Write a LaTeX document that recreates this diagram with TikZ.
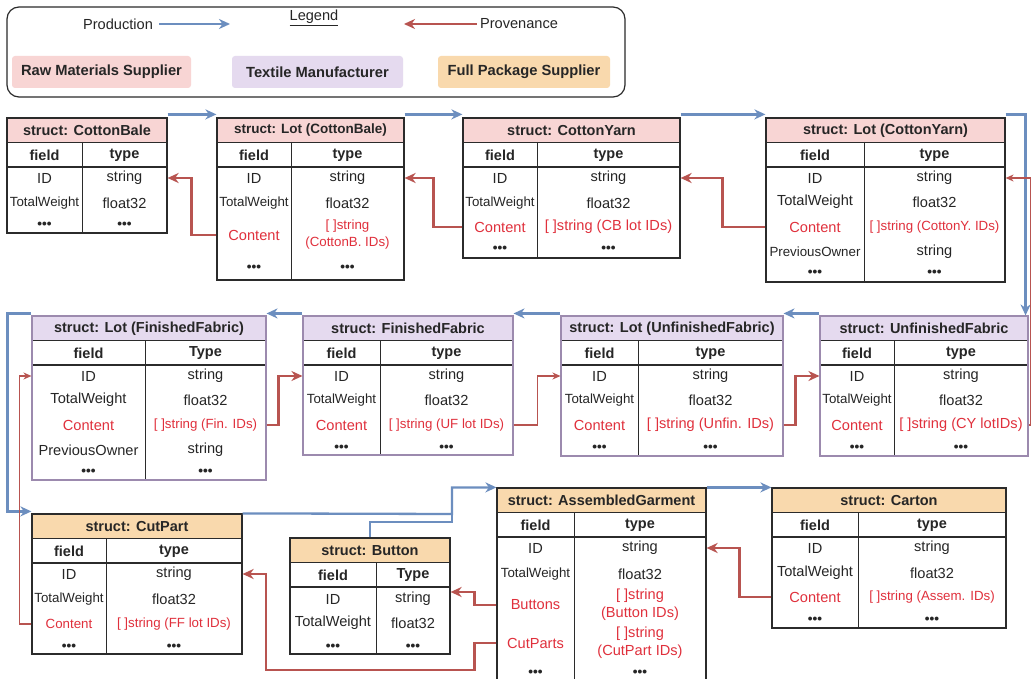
\documentclass[tikz,border=0pt]{standalone}
\usepackage{fontspec}
\setmainfont{Liberation Sans}
\usetikzlibrary{arrows.meta,fit,calc}
\definecolor{pinkF}{HTML}{F8D5D4}
\definecolor{lavF}{HTML}{E5DAEF}
\definecolor{peachF}{HTML}{F9D9AD}
\definecolor{bluL}{HTML}{6C8EBF}
\definecolor{redL}{HTML}{B85450}
\definecolor{txtred}{HTML}{E0303C}
\definecolor{darkL}{HTML}{2B2B2B}
\definecolor{lavB}{HTML}{9C8AAE}
\tikzset{
  rawfill/.style={fill=pinkF}, texfill/.style={fill=lavF}, fullfill/.style={fill=peachF},
  rawbord/.style={draw=darkL,line width=1.2pt},
  texbord/.style={draw=lavB,line width=1.1pt},
  fullbord/.style={draw=darkL,line width=1.2pt},
  inl/.style={draw=darkL,line width=0.8pt},
  tb/.style={font=\fontsize{14.6}{18}\selectfont,inner sep=0pt,align=center,text=black!85},
  sm/.style={font=\fontsize{13.3}{17}\selectfont},
  rd/.style={text=txtred},
  dt/.style={font=\bfseries\fontsize{13.5}{15}\selectfont},
  hd/.style={font=\bfseries\fontsize{14.5}{17}\selectfont,inner sep=0pt,text=black!85},
  prod/.style={draw=bluL,line width=2.3pt,-{Stealth[length=11pt,width=10pt,inset=3.5pt]}},
  prodline/.style={draw=bluL,line width=2.3pt},
  prov/.style={draw=redL,line width=2.2pt,-{Stealth[length=11pt,width=10pt,inset=3.5pt]}},
  provthin/.style={draw=redL,line width=1.1pt,-{Stealth[length=8pt,width=7pt,inset=2.5pt]}},
  legbox/.style={rounded corners=3pt,inner sep=0pt,minimum height=32pt,font=\bfseries\fontsize{14.7}{17}\selectfont,text=black!85},
}
% table: name, x1, xm, x2, ytop, ybot, kind, title, type heading
\newcommand\tbl[9]{%
  \fill[#7fill] (#2,#5) rectangle (#4,#5+24);
  \draw[inl] (#2,#5+24) -- (#4,#5+24);
  \draw[inl,line width=1.4pt] (#2,#5+49) -- (#4,#5+49);
  \draw[inl] (#3,#5+24) -- (#3,#6);
  \node[fit={(#2,#5) (#4,#6)},inner sep=0pt,#7bord] (#1) {};
  \node[hd] (#1-t) at ({(#2+#4)/2},#5+12.5) {#8};
  \pgfmathsetmacro\cL{(#2+#3)/2}\pgfmathsetmacro\cR{(#3+#4)/2}%
  \node[hd] (#1-fh) at (\cL,#5+37) {field};
  \node[hd] (#1-th) at (\cR,#5+37) {#9};
}
% row: key, y, field style, field, type style, type
\newcommand\rw[6]{%
  \node[tb,#3] (#1f) at (\cL,#2) {#4};
  \node[tb,#5] (#1v) at (\cR,#2) {#6};
}
\begin{document}
\begin{tikzpicture}[x=1pt,y=-1pt]
\useasboundingbox (0,0) rectangle (1031,679);
\fill[white] (0,0) rectangle (1031,679);

% ---------------- Legend
\node[fit={(7,7) (625,97)},inner sep=0pt,draw=darkL,line width=1.2pt,rounded corners=12pt] (leg) {};
\node[tb] (prodT) at (118,24) {Production};
\coordinate (prodE) at (230,24);
\draw[prod] ([xshift=6pt]prodT.east) -- (prodE);
\node[tb] (legT) at (314,18) {\underline{Legend}};
\node[tb] (provT) at (519,24) {Provenance};
\coordinate (provE) at (404,24);
\draw[prov] ([xshift=-3pt]provT.west) -- (provE);
\node[legbox,fill=pinkF,minimum width=179pt] (lraw) at (101.5,72) {Raw Materials Supplier};
\node[legbox,fill=lavF,minimum width=171pt] (ltex) at (317.5,72) {Textile Manufacturer};
\node[legbox,fill=peachF,minimum width=172pt] (lful) at (524,72) {Full Package Supplier};

% ---------------- Row 1
\tbl{cb}{7}{82}{167}{118}{233}{raw}{struct: CottonBale}{type}
\rw{cbID}{178}{}{ID}{}{string}
\rw{cbTW}{203}{sm}{TotalWeight}{}{float32}
\rw{cbD}{225}{dt}{•••}{dt}{•••}

\tbl{lotcb}{217}{291}{404}{118}{280}{raw}{{\fontsize{13.5}{16}\selectfont struct: Lot (CottonBale)}}{type}
\rw{lotcbID}{178}{}{ID}{}{string}
\rw{lotcbTW}{203}{sm}{TotalWeight}{}{float32}
\rw{lotcbC}{235}{rd}{Content}{rd,sm}{[ ]string\\(CottonB. IDs)}
\rw{lotcbD}{268}{dt}{•••}{dt}{•••}

\tbl{cy}{463}{537}{680}{118}{258}{raw}{struct: CottonYarn}{type}
\rw{cyID}{178}{}{ID}{}{string}
\rw{cyTW}{203}{sm}{TotalWeight}{}{float32}
\rw{cyC}{227}{rd}{Content}{rd}{[ ]string (CB lot IDs)}
\rw{cyD}{249}{dt}{•••}{dt}{•••}

\tbl{lotcy}{766}{864}{1005}{118}{282}{raw}{struct: Lot (CottonYarn)}{type}
\rw{lotcyID}{178}{}{ID}{}{string}
\rw{lotcyTW}{202}{}{TotalWeight}{}{float32}
\rw{lotcyC}{227}{rd}{Content}{rd,sm}{[ ]string (CottonY. IDs)}
\rw{lotcyP}{252}{sm}{PreviousOwner}{}{string}
\rw{lotcyD}{273}{dt}{•••}{dt}{•••}

% ---------------- Row 2
\tbl{lotff}{32}{145}{266}{316}{480}{tex}{struct: Lot (FinishedFabric)}{Type}
\rw{lotffID}{376}{}{ID}{}{string}
\rw{lotffTW}{400}{}{TotalWeight}{}{float32}
\rw{lotffC}{425}{rd}{Content}{rd,sm}{[ ]string (Fin. IDs)}
\rw{lotffP}{450}{}{PreviousOwner}{}{string}
\rw{lotffD}{472}{dt}{•••}{dt}{•••}

\tbl{ff}{303}{380}{513}{316}{455}{tex}{struct: FinishedFabric}{type}
\rw{ffID}{376}{}{ID}{}{string}
\rw{ffTW}{400}{sm}{TotalWeight}{}{float32}
\rw{ffC}{425}{rd}{Content}{rd,sm}{[ ]string (UF lot IDs)}
\rw{ffD}{448}{dt}{•••}{dt}{•••}

\tbl{lotuf}{561}{638}{783}{316}{456}{tex}{struct: Lot (UnfinishedFabric)}{type}
\rw{lotufID}{376}{}{ID}{}{string}
\rw{lotufTW}{400}{sm}{TotalWeight}{}{float32}
\rw{lotufC}{425}{rd}{Content}{rd}{[ ]string (Unfin. IDs)}
\rw{lotufD}{448}{dt}{•••}{dt}{•••}

\tbl{uf}{820}{894}{1028}{316}{456}{tex}{struct: UnfinishedFabric}{type}
\rw{ufID}{376}{}{ID}{}{string}
\rw{ufTW}{400}{sm}{TotalWeight}{}{float32}
\rw{ufC}{425}{rd}{Content}{rd}{[ ]string (CY lotIDs)}
\rw{ufD}{448}{dt}{•••}{dt}{•••}

% ---------------- Row 3
\tbl{cp}{32}{106}{242}{514}{654}{full}{struct: CutPart}{type}
\rw{cpID}{574}{}{ID}{}{string}
\rw{cpTW}{599}{sm}{TotalWeight}{}{float32}
\rw{cpC}{624}{rd,sm}{Content}{rd,sm}{[ ]string (FF lot IDs)}
\rw{cpD}{647}{dt}{•••}{dt}{•••}

\tbl{bt}{290}{376}{450}{538}{654}{full}{struct: Button}{Type}
\rw{btID}{599}{}{ID}{}{string}
\rw{btTW}{623}{}{TotalWeight}{}{float32}
\rw{btD}{647}{dt}{•••}{dt}{•••}

\tbl{ag}{497}{574}{706}{488}{688}{full}{struct: AssembledGarment}{type}
\rw{agID}{548}{}{ID}{}{string}
\rw{agTW}{574}{sm}{TotalWeight}{}{float32}
\rw{agB}{605}{rd}{Buttons}{rd}{[ ]string\\(Button IDs)}
\rw{agP}{643}{rd}{CutParts}{rd}{[ ]string\\(CutPart IDs)}
\rw{agD}{673}{dt}{•••}{dt}{•••}

\tbl{ct}{772}{858}{1006}{488}{628}{full}{struct: Carton}{type}
\rw{ctID}{548}{}{ID}{}{string}
\rw{ctTW}{573}{}{TotalWeight}{}{float32}
\rw{ctC}{597}{rd}{Content}{rd,sm}{[ ]string (Assem. IDs)}
\rw{ctD}{620}{dt}{•••}{dt}{•••}

% ---------------- Production connectors (blue)
\draw[prod] ([yshift=3pt]cb.north east) -- ([yshift=3pt]lotcb.north west);
\draw[prod] ([yshift=3pt]lotcb.north east) -- ([yshift=3pt]cy.north west);
\draw[prod] ([yshift=3pt]cy.north east) -- ([yshift=3pt]lotcy.north west);
\draw[prod] ([yshift=3pt]lotcy.north east) -| ([xshift=-3pt]uf.north east);
\draw[prod] ([yshift=2pt]uf.north west) -- ([yshift=2pt]lotuf.north east);
\draw[prod] ([yshift=2pt]lotuf.north west) -- ([yshift=2pt]ff.north east);
\draw[prod] ([yshift=2pt]ff.north west) -- ([yshift=2pt]lotff.north east);
\draw[prod] ([yshift=2pt]lotff.north west) -- ++(-24,0) |- ([yshift=2pt]cp.north west);
\coordinate (jn) at (452,514);
\draw[prod] (cp.north east) -- (jn) |- (ag.north west);
\draw[prodline] (bt.north) |- ([yshift=-8pt]jn) -- (jn);
\draw[prod] (ag.north east) -- (ct.north west);

% ---------------- Provenance connectors (red)
\draw[prov] (lotcb.west |- lotcbCf) -- ++(-25,0) |- (cb.east |- cbIDf);
\draw[prov] (cy.west |- cyCf) -- ++(-29,0) |- (lotcb.east |- lotcbIDf);
\draw[prov] (lotcy.west |- lotcyCf) -- ++(-43,0) |- (cy.east |- cyIDf);
\draw[provthin] (uf.east |- ufCv) -- ++(2,0) |- (lotcy.east |- lotcyIDv);
\draw[prov] (lotff.east |- lotffCv) -- ++(12,0) |- (ff.west |- ffIDf);
\draw[provthin] (ff.east |- ffCv) -- ++(24,0) |- (lotuf.west |- lotufIDf);
\draw[prov] (lotuf.east |- lotufCv) -- ++(12,0) |- (uf.west |- ufIDf);
\draw[provthin] (cp.west |- cpCf) -- ++(-12,0) |- (lotff.west |- lotffIDf);
\draw[prov] (ct.west |- ctCf) -- ++(-32,0) |- (ag.east |- agIDv);
\coordinate (btA) at ([yshift=7pt]btIDv.center);
\draw[prov] (ag.west |- agBf) -- ++(-22,0) |- (bt.east |- btA);
\coordinate (cpR) at ([xshift=23pt]cp.east);
\draw[prov] (ag.west |- agPf) -- ++(-22,0) -- ++(0,27) -| (cpR |- cpIDf) -- (cp.east |- cpIDf);
\end{tikzpicture}
\end{document}
